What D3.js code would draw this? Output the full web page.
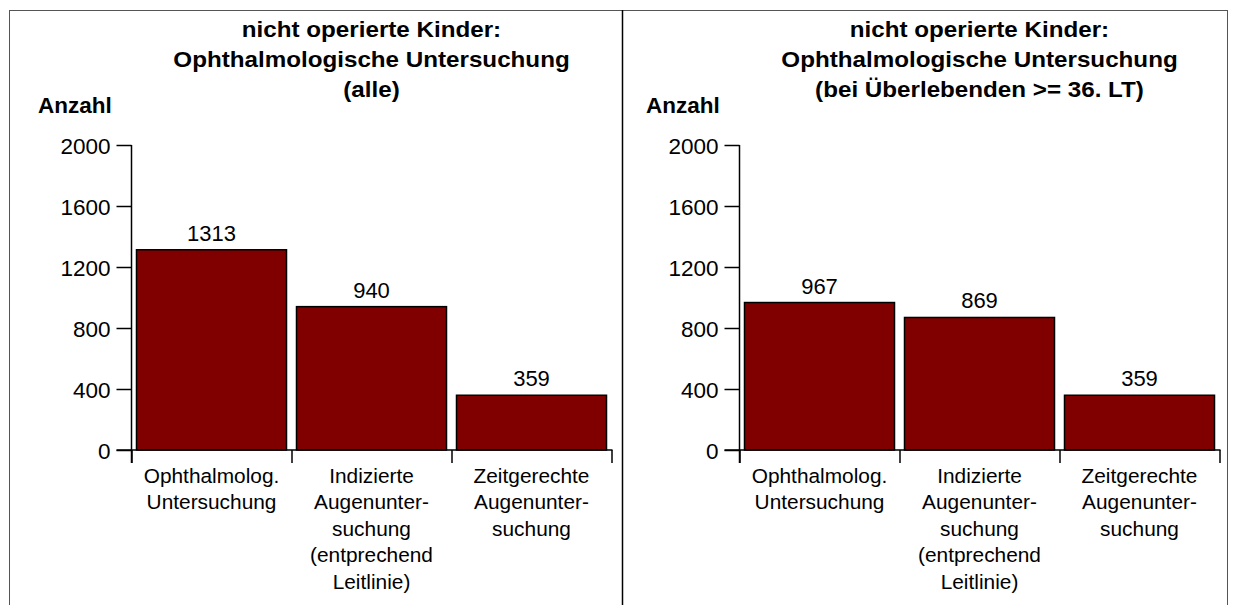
<!DOCTYPE html>
<html>
<head>
<meta charset="utf-8">
<script src="https://cdn.jsdelivr.net/npm/d3@7"></script>
<style>
  body { margin: 0; background: #fff; }
  text { font-family: "Liberation Sans", Arial, Helvetica, sans-serif; fill: #000; }
</style>
</head>
<body>
<div id="chart"></div>
<script>
// data
var categories = [
    ["Ophthalmolog.", "Untersuchung"],
    ["Indizierte", "Augenunter-", "suchung", "(entprechend", "Leitlinie)"],
    ["Zeitgerechte", "Augenunter-", "suchung"]
];
var valuesAll = [1313, 940, 359];
var valuesSurvivors = [967, 869, 359];
var yTicks = [0, 400, 800, 1200, 1600, 2000];
var titleAll = ["nicht operierte Kinder:", "Ophthalmologische Untersuchung", "(alle)"];
var titleSurvivors = ["nicht operierte Kinder:", "Ophthalmologische Untersuchung", "(bei Überlebenden >= 36. LT)"];

var W = 1237, H = 605;
var svg = d3.select('#chart').append('svg')
    .attr('width', W)
    .attr('height', H);

// outer frame + divider
svg.append('rect')
   .attr('x', 9.5).attr('y', 10.5)
   .attr('width', 1218).attr('height', 640)
   .style('fill', 'none').style('stroke', '#555').style('stroke-width', 1);
svg.append('line')
   .attr('x1', 622.5).attr('x2', 622.5).attr('y1', 10).attr('y2', H)
   .style('stroke', '#000').style('stroke-width', 1.5);

var plotW = 480, plotTop = 145, plotBottom = 450;

var drawPanel = function(left, values, title) {
    var g = svg.append('g').attr('transform', 'translate(' + left + ',0)');

    var yScale = d3.scaleLinear().domain([0, 2000]).range([plotBottom, plotTop]);
    var xBand = d3.scaleBand().domain(d3.range(values.length)).range([0, plotW])
                  .paddingInner(0.0625).paddingOuter(0.03125);
    var xEdge = d3.scaleLinear().domain([0, values.length]).range([0, plotW]);

    // title
    var t = g.append('text')
             .attr('text-anchor', 'middle')
             .style('font-weight', 'bold')
             .style('font-size', '22px')
             .attr('transform', 'translate(' + (plotW / 2) + ',0) scale(1.1,1)');
    title.forEach(function(line, i) {
        t.append('tspan').attr('x', 0).attr('y', 37 + i * 30).text(line);
    });

    g.append('text')
     .attr('x', 38 - 131.5).attr('y', 113)
     .style('font-weight', 'bold').style('font-size', '22.5px')
     .text('Anzahl');

    // bars
    g.selectAll('rect.bar').data(values).enter().append('rect')
     .attr('class', 'bar')
     .attr('x', function(d, i) { return xBand(i) })
     .attr('width', xBand.bandwidth())
     .attr('y', function(d) { return yScale(d) })
     .attr('height', function(d) { return plotBottom - yScale(d) })
     .style('fill', '#800000')
     .style('stroke', '#000')
     .style('stroke-width', 1.5);

    g.selectAll('text.val').data(values).enter().append('text')
     .attr('class', 'val')
     .attr('text-anchor', 'middle')
     .attr('x', function(d, i) { return xBand(i) + xBand.bandwidth() / 2 })
     .attr('y', function(d) { return yScale(d) - 9 })
     .style('font-size', '22px')
     .text(function(d) { return d });

    // y axis
    var yAxis = d3.axisLeft(yScale).tickValues(yTicks).tickFormat(d3.format('d'))
                  .tickSize(15).tickPadding(6);
    var ya = g.append('g').call(yAxis);
    ya.select('.domain').remove();
    ya.selectAll('line').style('stroke', '#000').style('stroke-width', 1.5);
    ya.selectAll('text').style('font-size', '22.5px').style('font-family', '"Liberation Sans", Arial, sans-serif').attr('dy', '0.36em');
    g.append('line')
     .attr('x1', 0).attr('x2', 0).attr('y1', plotTop).attr('y2', plotBottom + 13)
     .style('stroke', '#000').style('stroke-width', 1.5);

    // x axis with ticks at category boundaries
    var xAxis = d3.axisBottom(xEdge).tickValues(d3.range(values.length + 1))
                  .tickFormat('').tickSize(13).tickSizeOuter(0);
    var xa = g.append('g').attr('transform', 'translate(0,' + plotBottom + ')').call(xAxis);
    xa.select('.domain').attr('d', 'M-15,0H' + (plotW + 1)).style('stroke', '#000').style('stroke-width', 1.5);
    xa.selectAll('line').style('stroke', '#000').style('stroke-width', 1.5);

    // category labels
    g.selectAll('text.cat').data(categories).enter().append('text')
     .attr('class', 'cat')
     .attr('text-anchor', 'middle')
     .style('font-size', '19.5px')
     .attr('transform', function(d, i) {
         return 'translate(' + (xBand(i) + xBand.bandwidth() / 2) + ',0) scale(1.07,1)';
     })
     .each(function(d) {
         var el = d3.select(this);
         d.forEach(function(line, j) {
             el.append('tspan').attr('x', 0).attr('y', 483 + j * 26.5).text(line);
         });
     });
};

drawPanel(131.5, valuesAll, titleAll);
drawPanel(739.5, valuesSurvivors, titleSurvivors);
</script>
</body>
</html>
